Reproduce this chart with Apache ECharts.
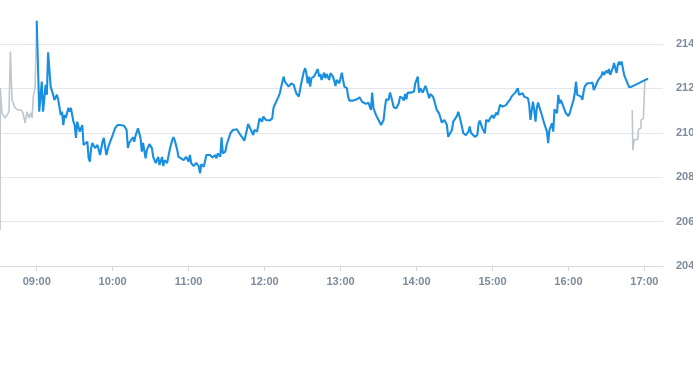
<!DOCTYPE html>
<html>
<head>
<meta charset="utf-8">
<script src="https://cdn.jsdelivr.net/npm/echarts@6/dist/echarts.min.js"></script>
<style>html,body{margin:0;padding:0;background:#fff}#c{width:693px;height:365px}</style>
</head>
<body>
<div id="c"></div>
<script>
// minutes relative to 09:00
var preTimes = [-29, -28.8, -27.4, -26.6, -25, -23.4, -21.9, -20.8, -19.5, -18.7, -17.1, -14.8, -12.4, -10.8, -9.2, -7.7, -6.1, -4.7, -3.7, -2.7, -1.3, -0.6, 0];
var preValues = [205.61, 212.02, 210.88, 210.80, 210.67, 210.80, 210.95, 213.66, 211.48, 211.57, 211.12, 211.03, 211.03, 210.89, 210.44, 210.95, 210.67, 210.89, 210.67, 211.63, 212.02, 212.08, 215.05];

var mainTimes = [0,2,4,5,7,8,9,11,13,14,16,17,19,20,21,22,23,25,26,27,29,30,31,32,34,36,37,40,41,42,43,44,46,48,50,52,53,55,57,60,62,64,66,69,71,72,73,76,77,78,80,82,83,84,86,87,89,91,92,94,96,97,99,100,101,103,105,107,108,109,111,112,114,116,118,120,121,122,124,126,128,129,130,132,134,135,137,139,141,142,143,145,146,147,149,150,151,153,155,158,160,162,164,166,167,168,171,172,174,176,178,179,181,182,184,186,187,188,189,191,192,193,195,196,197,199,201,203,204,205,207,208,209,211,212,213,214,215,216,217,219,220,222,223,224,225,227,228,229,231,232,234,235,236,237,239,241,242,243,245,246,247,250,253,255,257,258,260,261,262,264,265,266,268,270,272,274,275,276,278,279,280,282,284,286,287,289,290,291,292,293,296,298,299,301,302,303,305,306,307,308,310,311,313,314,316,318,320,321,322,324,325,326,328,329,330,332,333,334,335,337,339,341,342,343,346,348,349,350,352,354,355,357,358,360,361,363,364,365,366,368,369,371,372,374,375,376,378,379,380,381,382,384,385,386,388,389,390,392,393,394,395,396,397,399,400,401,403,404,405,407,408,409,411,412,413,414,416,417,418,420,421,422,424,425,426,427,428,430,431,432,433,435,436,437,439,440,441,443,444,446,447,448,450,451,452,453,455,456,458,459,460,461,462,464,465,466,468,470,482,483];
var mainValues = [215.05,210.95,212.31,210.95,212.16,211.71,213.63,212.08,211.71,211.48,211.71,211.48,210.80,210.95,210.35,210.80,210.67,211.12,210.95,211.12,210.50,210.35,209.77,210.50,210.05,210.35,209.45,209.60,208.86,208.70,209.31,209.54,209.31,209.45,209.00,209.60,209.77,209.00,209.45,209.90,210.22,210.35,210.35,210.32,210.13,209.31,209.54,209.80,209.60,209.86,210.20,209.77,209.15,209.54,208.85,209.22,209.49,209.31,208.92,208.64,208.91,208.55,208.91,208.50,208.77,208.64,209.22,209.67,209.80,209.67,209.22,208.92,208.85,208.77,208.92,208.70,209.00,208.64,208.50,208.65,208.50,208.17,208.59,208.47,209.00,208.92,209.00,208.89,209.00,208.85,209.07,208.92,209.80,209.07,209.15,209.45,209.53,209.98,210.13,210.16,209.98,209.82,209.64,210.13,210.40,210.28,209.90,210.13,210.05,210.65,210.50,210.73,210.58,210.65,210.55,210.65,211.11,211.26,211.33,211.63,211.78,211.86,212.53,212.31,212.23,212.08,212.23,212.16,212.23,211.78,211.63,211.71,212.23,212.76,212.91,212.69,212.23,212.53,212.08,212.46,212.53,212.56,212.87,212.53,212.65,212.38,212.71,212.46,212.65,212.38,212.69,212.53,212.35,212.11,212.38,212.23,212.71,212.38,212.08,212.01,211.63,211.45,211.45,211.51,211.60,211.40,211.45,211.30,211.21,211.36,211.03,211.81,211.11,210.80,210.58,210.35,210.58,211.11,211.51,211.48,211.81,211.63,211.15,211.11,211.33,211.63,211.56,211.45,211.75,211.51,211.81,211.81,211.86,212.23,212.53,211.81,212.01,211.81,211.90,212.11,211.96,211.56,211.75,211.63,211.45,211.03,210.85,210.46,210.40,210.58,210.35,209.82,209.75,210.13,210.50,210.58,210.76,210.95,210.73,210.50,209.98,209.90,210.05,210.28,210.00,209.82,209.90,210.40,210.55,210.20,209.98,210.58,210.50,210.65,210.80,210.65,210.91,210.80,211.03,211.26,211.18,211.11,211.26,211.36,211.51,211.63,211.63,211.81,211.81,212.01,211.71,211.66,211.78,211.63,211.63,211.56,211.26,210.58,211.40,211.03,210.50,211.11,211.36,211.40,210.80,210.88,210.40,210.05,209.53,210.13,210.43,210.05,211.06,210.88,211.71,211.33,211.48,211.18,211.11,210.88,210.76,210.88,210.95,211.48,211.78,212.31,211.71,211.78,211.63,211.48,211.86,212.11,212.23,212.31,212.23,212.26,211.93,212.05,212.31,212.42,212.56,212.76,212.61,212.80,212.69,212.87,212.61,212.91,213.14,212.69,213.06,213.21,213.06,213.21,212.61,212.46,212.38,212.05,212.08,212.42,212.42];

var postTimes = [470.4, 470.9, 471.9, 474.8, 475.3, 477.2, 477.4, 479.2, 480.2, 480.4, 482];
var postValues = [211.03, 209.22, 209.67, 209.71, 210.16, 210.20, 210.58, 210.65, 210.65, 212.38, 212.42];

var yTicks = [204, 206, 208, 210, 212, 214];

var BASE = Date.UTC(2024, 0, 15, 9, 0, 0);
function toPairs(ts, vs) {
  return ts.map(function (t, i) { return [BASE + Math.round(t * 60000), vs[i]]; });
}
function pad(n) { return (n < 10 ? '0' : '') + n; }

var chart = echarts.init(document.getElementById('c'), null, { renderer: 'canvas' });
chart.setOption({
  useUTC: true,
  animation: false,
  backgroundColor: '#ffffff',
  grid: { left: 0, right: 30, top: 44, bottom: 99, containLabel: false, outerBoundsMode: 'none' },
  xAxis: {
    type: 'time',
    min: BASE - 29 * 60000,
    max: BASE + 494.7 * 60000,
    minInterval: 3600000,
    maxInterval: 3600000,
    splitNumber: 9,
    axisLine: { show: true, lineStyle: { color: '#d5dae0', width: 1 } },
    axisTick: { show: true, length: 5, lineStyle: { color: '#d5dae0' } },
    splitLine: { show: false },
    axisLabel: {
      color: '#7d8b9d', fontSize: 11, fontWeight: 'bold', fontFamily: 'Liberation Sans, Arial, sans-serif', margin: 10,
      formatter: function (v) {
        var d = new Date(v);
        if (d.getUTCMinutes() !== 0) return '';
        return pad(d.getUTCHours()) + ':00';
      }
    }
  },
  yAxis: {
    type: 'value',
    position: 'right',
    min: yTicks[0],
    max: yTicks[yTicks.length - 1],
    interval: 2,
    axisLine: { show: false },
    axisTick: { show: false },
    splitLine: { show: true, lineStyle: { color: '#e3e6ea', width: 1 } },
    axisLabel: {
      color: '#7d8b9d', fontSize: 11, fontWeight: 'bold', fontFamily: 'Liberation Sans, Arial, sans-serif', margin: 13,
      formatter: function (v) { return String(v); }
    }
  },
  series: [
    { type: 'line', name: 'pre', data: toPairs(preTimes, preValues), showSymbol: false, symbol: 'none', clip: false,
      lineStyle: { color: '#bfc6ce', width: 1.6 }, z: 2 },
    { type: 'line', name: 'post', data: toPairs(postTimes, postValues), showSymbol: false, symbol: 'none', clip: false,
      lineStyle: { color: '#bfc6ce', width: 1.6 }, z: 2 },
    { type: 'line', name: 'main', data: toPairs(mainTimes, mainValues), showSymbol: false, symbol: 'none', clip: false,
      lineStyle: { color: '#1a8fe0', width: 2.1 }, z: 3 }
  ]
});
</script>
</body>
</html>
